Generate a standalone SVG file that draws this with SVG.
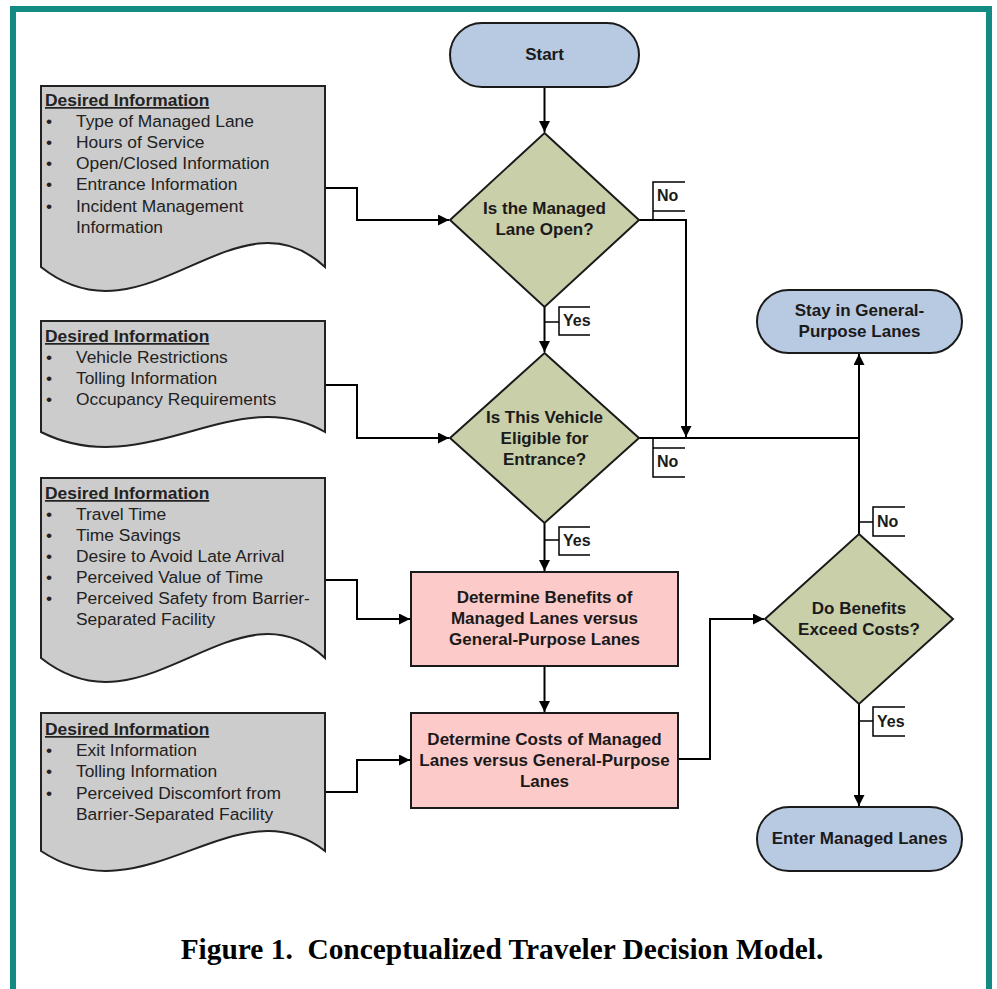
<svg xmlns="http://www.w3.org/2000/svg" width="997" height="989" viewBox="0 0 997 989">
<defs>
<marker id="ah" viewBox="0 0 10 10" refX="10" refY="5" markerWidth="11" markerHeight="11" markerUnits="userSpaceOnUse" orient="auto">
<path d="M0,0 L10,5 L0,10 Z" fill="#000"/>
</marker>
</defs>
<style>
.term{fill:#b8c9e2;stroke:#1a1a1a;stroke-width:2}
.dec{fill:#c9cfa9;stroke:#1a1a1a;stroke-width:2}
.proc{fill:#fdcaca;stroke:#1a1a1a;stroke-width:2}
.doc{fill:#cccccc;stroke:#222;stroke-width:2}
.nt{font-family:"Liberation Sans",Arial,sans-serif;font-weight:bold;font-size:17px;fill:#1a1a1a;text-anchor:middle}
.dt{font-family:"Liberation Sans",Arial,sans-serif;font-size:17.4px;fill:#222}
.dh{font-weight:bold;text-decoration:underline}
.conn{fill:none;stroke:#000;stroke-width:2}
.lab{fill:none;stroke:#000;stroke-width:1.5}
.lt{font-family:"Liberation Sans",Arial,sans-serif;font-weight:bold;font-size:16px;fill:#1a1a1a}
</style>
<rect x="0" y="0" width="997" height="989" fill="#fff"/>
<rect x="13" y="9" width="976" height="1010" fill="none" stroke="#138a82" stroke-width="6"/>

<g id="connectors">
<path class="conn" d="M544.5,87 V132" marker-end="url(#ah)"/>
<path class="conn" d="M544.5,307 V352" marker-end="url(#ah)"/>
<path class="conn" d="M544.5,523 V571" marker-end="url(#ah)"/>
<path class="conn" d="M544.5,666 V712" marker-end="url(#ah)"/>
<path class="conn" d="M639,220 H686 V437" marker-end="url(#ah)"/>
<path class="conn" d="M639,438 H859"/>
<path class="conn" d="M859,534 V354" marker-end="url(#ah)"/>
<path class="conn" d="M859,704 V806" marker-end="url(#ah)"/>
<path class="conn" d="M678,759 H710 V619 H764" marker-end="url(#ah)"/>
<path class="conn" d="M325,188 H357 V220 H449" marker-end="url(#ah)"/>
<path class="conn" d="M325,385 H357 V438 H449" marker-end="url(#ah)"/>
<path class="conn" d="M325,580 H357 V619 H410" marker-end="url(#ah)"/>
<path class="conn" d="M325,792 H357 V760 H410" marker-end="url(#ah)"/>
<path class="lab" d="M685,182 H653 V220 M653,211 H685"/>
<text class="lt" x="657" y="201">No</text>
<path class="lab" d="M653,438 V477 H685 M653,448 H685"/>
<text class="lt" x="657" y="467">No</text>
<path class="lab" d="M544.5,322 H559 M590,307 H559 V335 H590"/>
<text class="lt" x="563" y="326">Yes</text>
<path class="lab" d="M544.5,540 H559 M590,527 H559 V555 H590"/>
<text class="lt" x="563" y="546">Yes</text>
<path class="lab" d="M859,522 H873 M905,507 H873 V536 H905"/>
<text class="lt" x="877" y="527">No</text>
<path class="lab" d="M859,721 H873 M905,707 H873 V736 H905"/>
<text class="lt" x="877" y="727">Yes</text>
</g>

<g id="start">
<rect class="term" x="450" y="23" width="189" height="64" rx="32"/>
<text class="nt" x="544.5" y="60">Start</text>
</g>

<g id="q-open">
<path class="dec" d="M544.5,133 L639,220 L544.5,307 L450,220 Z"/>
<text class="nt" x="544.5" y="214">Is the Managed</text>
<text class="nt" x="544.5" y="235">Lane Open?</text>
</g>

<g id="q-eligible">
<path class="dec" d="M544.5,353 L639,438 L544.5,523 L450,438 Z"/>
<text class="nt" x="544.5" y="423">Is This Vehicle</text>
<text class="nt" x="544.5" y="444">Eligible for</text>
<text class="nt" x="544.5" y="465">Entrance?</text>
</g>

<g id="benefits">
<rect class="proc" x="411" y="572" width="267" height="94"/>
<text class="nt" x="544.5" y="603">Determine Benefits of</text>
<text class="nt" x="544.5" y="624">Managed Lanes versus</text>
<text class="nt" x="544.5" y="645">General-Purpose Lanes</text>
</g>

<g id="costs">
<rect class="proc" x="411" y="713" width="267" height="95"/>
<text class="nt" x="544.5" y="745">Determine Costs of Managed</text>
<text class="nt" x="544.5" y="766">Lanes versus General-Purpose</text>
<text class="nt" x="544.5" y="787">Lanes</text>
</g>

<g id="q-benefits">
<path class="dec" d="M859,534 L953,619 L859,704 L765,619 Z"/>
<text class="nt" x="859" y="614">Do Benefits</text>
<text class="nt" x="859" y="635">Exceed Costs?</text>
</g>

<g id="stay">
<rect class="term" x="757" y="290" width="205" height="63" rx="31.5"/>
<text class="nt" x="859.5" y="316">Stay in General-</text>
<text class="nt" x="859.5" y="337">Purpose Lanes</text>
</g>

<g id="enter">
<rect class="term" x="757" y="807" width="205" height="64" rx="32"/>
<text class="nt" x="859.5" y="844">Enter Managed Lanes</text>
</g>

<g id="doc1">
<path class="doc" d="M41,86 H325 V267 C236,184 145,350 41,267 Z"/>
<text class="dt dh" x="45" y="106">Desired Information</text>
<text class="dt" x="46" y="127">•</text><text class="dt" x="76" y="127">Type of Managed Lane</text>
<text class="dt" x="46" y="148">•</text><text class="dt" x="76" y="148">Hours of Service</text>
<text class="dt" x="46" y="169">•</text><text class="dt" x="76" y="169">Open/Closed Information</text>
<text class="dt" x="46" y="190">•</text><text class="dt" x="76" y="190">Entrance Information</text>
<text class="dt" x="46" y="212">•</text><text class="dt" x="76" y="212">Incident Management</text>
<text class="dt" x="76" y="233">Information</text>
</g>

<g id="doc2">
<path class="doc" d="M41,321 H325 V432 C236,380 145,484 41,432 Z"/>
<text class="dt dh" x="45" y="342">Desired Information</text>
<text class="dt" x="46" y="363">•</text><text class="dt" x="76" y="363">Vehicle Restrictions</text>
<text class="dt" x="46" y="384">•</text><text class="dt" x="76" y="384">Tolling Information</text>
<text class="dt" x="46" y="405">•</text><text class="dt" x="76" y="405">Occupancy Requirements</text>
</g>

<g id="doc3">
<path class="doc" d="M41,478 H325 V658 C236,575 145,741 41,658 Z"/>
<text class="dt dh" x="45" y="499">Desired Information</text>
<text class="dt" x="46" y="520">•</text><text class="dt" x="76" y="520">Travel Time</text>
<text class="dt" x="46" y="541">•</text><text class="dt" x="76" y="541">Time Savings</text>
<text class="dt" x="46" y="562">•</text><text class="dt" x="76" y="562">Desire to Avoid Late Arrival</text>
<text class="dt" x="46" y="583">•</text><text class="dt" x="76" y="583">Perceived Value of Time</text>
<text class="dt" x="46" y="604">•</text><text class="dt" x="76" y="604">Perceived Safety from Barrier-</text>
<text class="dt" x="76" y="625">Separated Facility</text>
</g>

<g id="doc4">
<path class="doc" d="M41,713 H325 V851 C236,782 145,920 41,851 Z"/>
<text class="dt dh" x="45" y="735">Desired Information</text>
<text class="dt" x="46" y="756">•</text><text class="dt" x="76" y="756">Exit Information</text>
<text class="dt" x="46" y="777">•</text><text class="dt" x="76" y="777">Tolling Information</text>
<text class="dt" x="46" y="799">•</text><text class="dt" x="76" y="799">Perceived Discomfort from</text>
<text class="dt" x="76" y="820">Barrier-Separated Facility</text>
</g>

<text x="502" y="959" font-family="'Liberation Serif','Times New Roman',serif" font-weight="bold" font-size="29.4" text-anchor="middle" fill="#000" xml:space="preserve">Figure 1.  Conceptualized Traveler Decision Model.</text>
</svg>
